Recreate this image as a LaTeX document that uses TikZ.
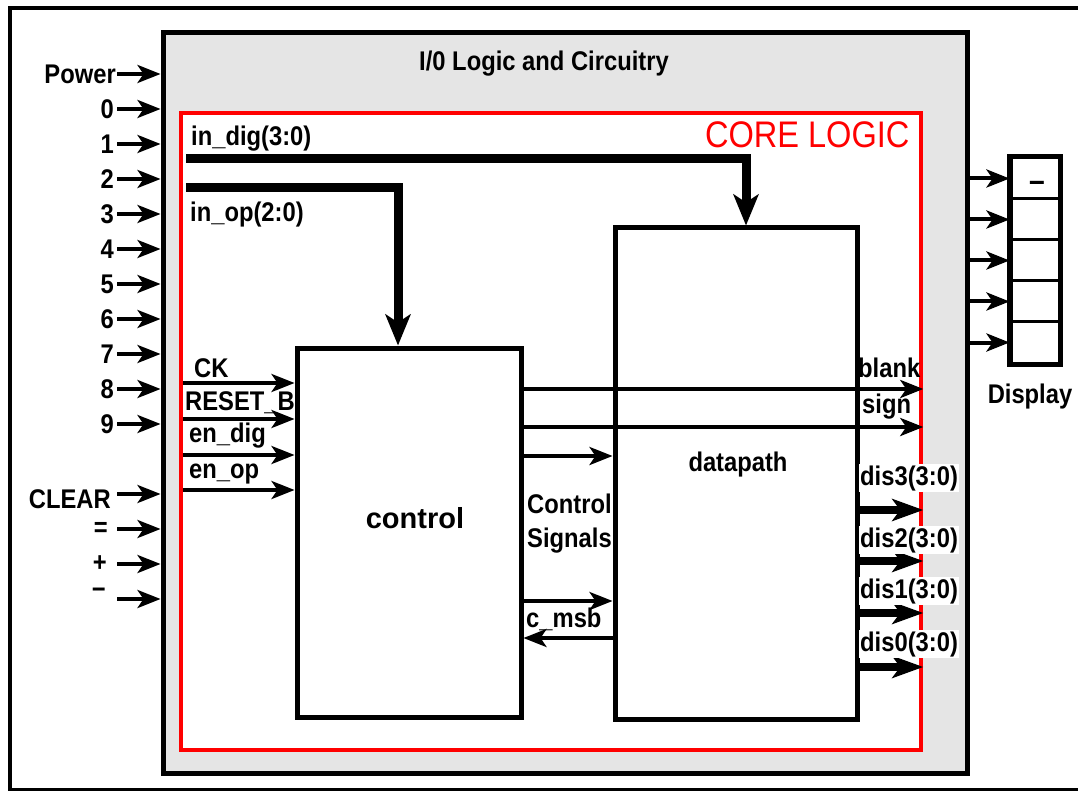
\documentclass[tikz,border=0pt]{standalone}
\usepackage{fontspec}
\setmainfont{Liberation Sans}[FakeStretch=0.88]
\newfontfamily\widefont{Liberation Sans}
\usetikzlibrary{positioning,arrows.meta}
\definecolor{iogray}{RGB}{229,229,229}

\begin{document}
\begin{tikzpicture}[x=1pt, y=-1pt,
  font=\fontsize{27}{30}\selectfont\bfseries,
  blk/.style={draw, line width=5pt, fill=white, inner sep=0pt},
  lbl/.style={inner sep=1pt},
  sig/.style={line width=4pt, -{Stealth[length=23pt, width=18pt, inset=6pt]}},
  bus/.style={line width=9pt, line join=miter, -{Stealth[length=31pt, width=25pt, inset=8pt]}},
  dout/.style={line width=8pt, -{Stealth[length=31pt, width=22pt, inset=8pt]}},
  cell/.style={draw, line width=3pt, fill=white, minimum width=48pt, minimum height=41pt, inner sep=0pt}
]
\useasboundingbox (0,0) rectangle (1078,791);
\draw[line width=4pt] (1078,8) -- (10,8) -- (10,790) -- (1078,790);

% I/O ring and core
\node[blk, fill=iogray, minimum width=804pt, minimum height=740pt] (io) at (565,403) {};
\node[font=\fontsize{27}{30}\selectfont\bfseries] (iottl) at (544,64) {I/0 Logic and Circuitry};
\node[draw=red, line width=4.5pt, fill=white, inner sep=0pt,
      minimum width=740pt, minimum height=637pt] (core) at (551,431.5) {};
\node[red, anchor=east, font=\fontsize{37}{40}\selectfont\mdseries] (corettl) at (913,135) {CORE LOGIC};

% pins into the I/O ring
\foreach \t/\k/\dx/\dy in {Power/0/0/0, 0/1/2/0, 1/2/2/0, 2/3/2/0, 3/4/2/0, 4/5/2/0,
                           5/6/2/0, 6/7/2/0, 7/8/2/0, 8/9/2/0, 9/10/2/0,
                           CLEAR/12/5/5, =/13/8/0, +/14/9/0, −/15/10/-6} {
  \coordinate (pin\k) at (117,74+35*\k);
  \node[lbl, anchor=east] (p\k) at ([xshift=-\dx pt, yshift=-\dy pt]pin\k) {\t};
  \draw[sig] (pin\k) -- (pin\k -| io.west);
}

% blocks
\node[blk, minimum width=224pt, minimum height=369pt] (ctrl) at (409,532.5) {};
\node[font=\widefont\fontsize{29}{32}\selectfont\bfseries] (ctrltxt) at (415,518) {control};
\node[blk, minimum width=242pt, minimum height=491pt] (dp) at (736,473.5) {};
\node[font=\fontsize{27}{30}\selectfont\bfseries] (dptxt) at (738,465) {datapath};

% input buses
\coordinate (digin) at (186,159);
\coordinate (opin) at (186,188);
\draw[bus] (digin) -| ([xshift=10pt]dp.north);
\draw[bus] (opin) -| ([xshift=-11pt]ctrl.north);
\node[lbl, anchor=base west] (digtxt) at (190,146) {in\_dig(3:0)};
\node[lbl, anchor=base west] (optxt) at (189,222) {in\_op(2:0)};

% control inputs
\foreach \t/\y/\lx/\by in {CK/383/193/377, RESET\_B/419/184/410,
                           en\_dig/455/188/442, en\_op/490/188/478} {
  \coordinate (ci) at (183,\y);
  \draw[sig] (ci) -- (ci -| ctrl.west);
  \node[lbl, anchor=base west] at (\lx,\by) {\t};
}

% control -> outside
\coordinate (yblank) at (0,389);
\coordinate (ysign) at (0,427);
\draw[sig] (ctrl.east |- yblank) -- (core.east |- yblank);
\draw[sig] (ctrl.east |- ysign) -- (core.east |- ysign);
\node[lbl, anchor=base west] (blanktxt) at (857,377) {blank};
\node[lbl, anchor=base west] (signtxt) at (861,413) {sign};

% control <-> datapath
\coordinate (ycs1) at (0,456);
\coordinate (ycs2) at (0,601);
\coordinate (ymsb) at (0,638);
\draw[sig] (ctrl.east |- ycs1) -- (dp.west |- ycs1);
\draw[sig] (ctrl.east |- ycs2) -- (dp.west |- ycs2);
\draw[sig] (dp.west |- ymsb) -- (ctrl.east |- ymsb);
\node[lbl, anchor=base west] (cs1) at (526,513) {Control};
\node[lbl, anchor=base west] (cs2) at (526,547) {Signals};
\node[lbl, anchor=base west] (msbtxt) at (525,627) {c\_msb};

% digit outputs
\foreach \i/\y/\by in {3/510/485, 2/561/547, 1/613/598, 0/667/651} {
  \coordinate (yd) at (0,\y);
  \draw[dout] (dp.east |- yd) -- (core.east |- yd);
  \node[lbl, fill=white, anchor=base west] (dis\i) at (859,\by) {dis\i(3:0)};
}

% display
\foreach \i in {0,...,4} {
  \node[cell] (d\i) at (1035,178.5+41*\i) {};
  \draw[sig] (io.east |- d\i) -- (d\i.west);
}
\draw[line width=5pt] (d0.north west) rectangle (d4.south east);
\node (dash) at (1037,186) {\fontsize{32}{32}\selectfont –};
\node[anchor=base] (disptxt) at (1030,403) {Display};
\end{tikzpicture}
\end{document}
